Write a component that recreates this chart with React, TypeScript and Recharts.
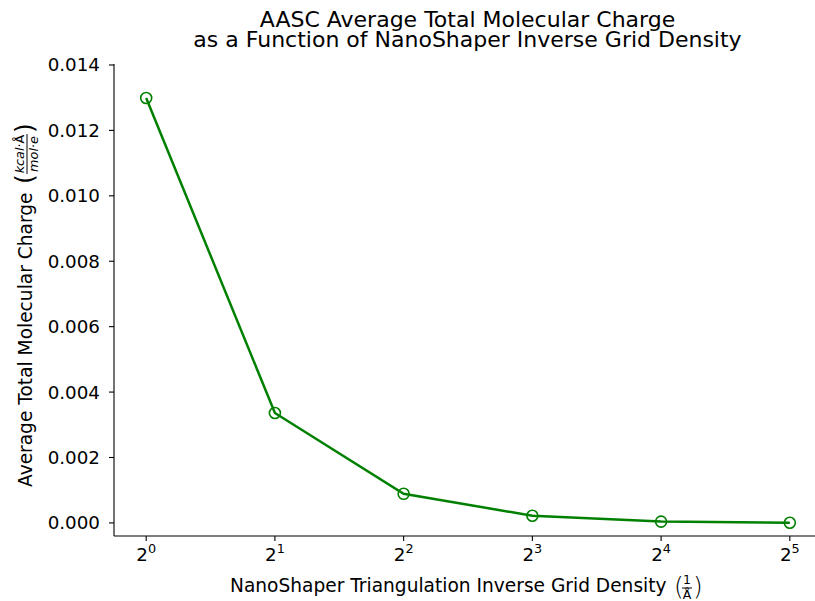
import { Line, LineChart, XAxis, YAxis } from 'recharts';

const FONT = '"DejaVu Sans", sans-serif';

// inverse grid density (1/Å), plotted on a log2 axis
const densities = [1, 2, 4, 8, 16, 32];
const avgCharge = [0.01299, 0.00336, 0.00089, 0.00022, 0.00004, 0.000005];
const yTicks = [0, 0.002, 0.004, 0.006, 0.008, 0.01, 0.012, 0.014];

const data = densities.map((d, i) => ({ d, v: avgCharge[i] }));

const PowTick = ({ x, y, payload }: any) => (
  <text x={x} y={y + 18} textAnchor="middle" fontSize={18.3} fontFamily={FONT} fill="#000">
    <tspan>2</tspan>
    <tspan dy={-8} fontSize={12.8}>{Math.round(Math.log2(payload.value))}</tspan>
  </text>
);

const Overlay = () => (
  <svg width={815} height={601} style={{ position: 'absolute', left: 0, top: 0, pointerEvents: 'none' }}>
    <g fontFamily={FONT} fill="#000">
      <text x={467.5} y={26.5} textAnchor="middle" fontSize={22}>AASC Average Total Molecular Charge</text>
      <text x={467.5} y={47} textAnchor="middle" fontSize={22}>as a Function of NanoShaper Inverse Grid Density</text>

      {/* x label */}
      <text x={230} y={592} fontSize={18.6}>NanoShaper Triangulation Inverse Grid Density</text>
      <text x={674} y={595} fontSize={25} fontWeight={300}>(</text>
      <text x={687} y={584} fontSize={12.5} textAnchor="middle">1</text>
      <line x1={682} x2={692} y1={588} y2={588} stroke="#000" strokeWidth={1} />
      <text x={687} y={599} fontSize={12.5} textAnchor="middle">Å</text>
      <text x={693} y={595} fontSize={25} fontWeight={300}>)</text>

      {/* y label */}
      <g transform="translate(25,304) rotate(-90)">
        <text x={-183} y={7} fontSize={18.6}>Average Total Molecular Charge</text>
        <text x={120} y={8} fontSize={25}>(</text>
        <text x={150} y={-1} fontSize={12.8} textAnchor="middle">
          <tspan fontStyle="italic">kcal</tspan>·Å
        </text>
        <line x1={130} x2={170} y1={2} y2={2} stroke="#000" strokeWidth={1} />
        <text x={150} y={13} fontSize={12.8} textAnchor="middle">
          <tspan fontStyle="italic">mol</tspan>·<tspan fontStyle="italic">e</tspan>
        </text>
        <text x={171} y={8} fontSize={25}>)</text>
      </g>
    </g>
  </svg>
);

export default function App() {
  return (
    <div style={{ position: 'absolute', left: 0, top: 0, width: 815, height: 601, overflow: 'hidden', background: '#fff' }}>
      <LineChart width={832} height={601} data={data} margin={{ top: 64, right: 10, bottom: 0, left: 0 }}>
        <XAxis
          dataKey="d"
          type="number"
          scale="log"
          domain={[Math.pow(2, -0.25), Math.pow(2, 5.25)]}
          ticks={densities}
          tick={<PowTick />}
          tickSize={5}
          tickMargin={2}
          height={65}
          stroke="#000"
          axisLine={{ stroke: '#000', strokeWidth: 1.1 }}
          tickLine={{ stroke: '#000', strokeWidth: 1.1 }}
        />
        <XAxis
          xAxisId="top"
          orientation="top"
          dataKey="d"
          type="number"
          scale="log"
          domain={[Math.pow(2, -0.25), Math.pow(2, 5.25)]}
          height={0}
          tick={false}
          tickLine={false}
          axisLine={{ stroke: '#000', strokeWidth: 1.1 }}
        />
        <YAxis
          type="number"
          domain={[-0.0004, 0.01403]}
          ticks={yTicks}
          width={114}
          tickSize={5}
          tickMargin={9}
          tickFormatter={(v: number) => v.toFixed(3)}
          tick={{ fontSize: 18.3, fill: '#000', fontFamily: FONT }}
          axisLine={{ stroke: '#000', strokeWidth: 1.1 }}
          tickLine={{ stroke: '#000', strokeWidth: 1.1 }}
        />
        <Line
          type="linear"
          dataKey="v"
          stroke="#008000"
          strokeWidth={2.5}
          dot={{ r: 5.5, stroke: '#008000', strokeWidth: 1.6, fill: 'none' }}
          activeDot={false}
          isAnimationActive={false}
        />
      </LineChart>
      <Overlay />
    </div>
  );
}
